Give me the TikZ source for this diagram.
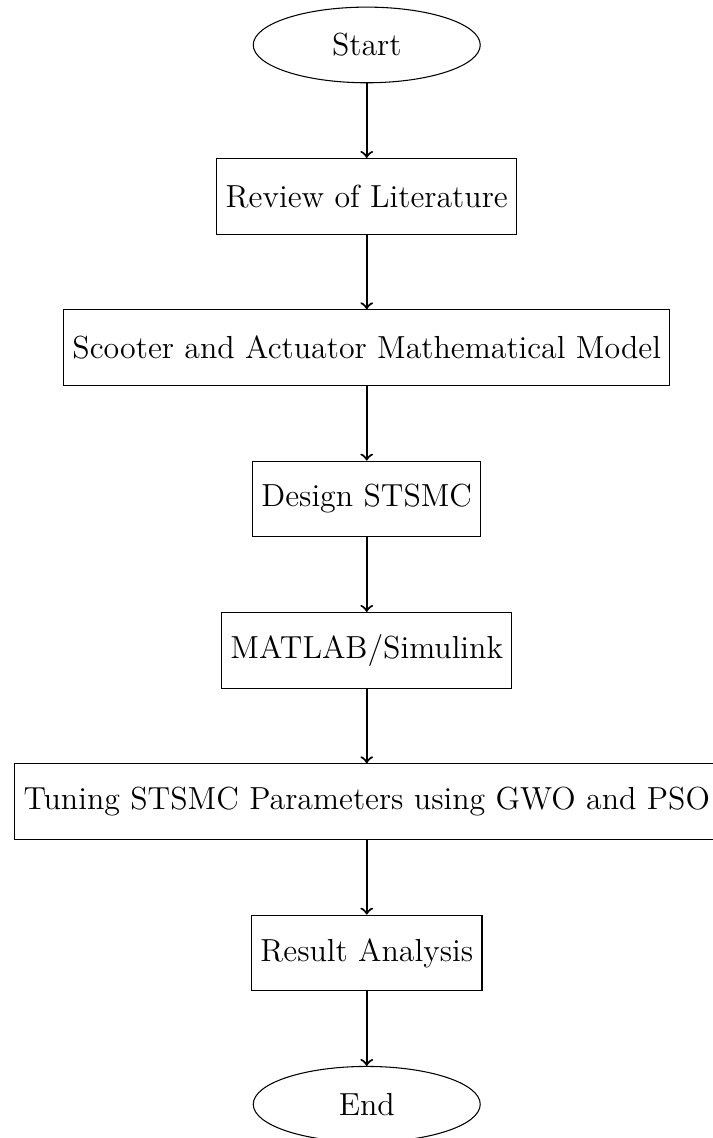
\documentclass[tikz,border=0pt]{standalone}
\usetikzlibrary{shapes.geometric}
\begin{document}
\begin{tikzpicture}[
  terminal/.style={ellipse, draw, minimum width=3cm, minimum height=1cm, font=\large},
  process/.style={rectangle, draw, minimum height=1cm, font=\large},
  flow/.style={->, thick}
]
\useasboundingbox (-4.847,0.594) rectangle (4.563,-14.446);
\node[terminal] (start) at (0,0) {Start};
\node[process] (lit) at (0,-2) {Review of Literature};
\node[process] (model) at (0,-4) {Scooter and Actuator Mathematical Model};
\node[process] (design) at (0,-6) {Design STSMC};
\node[process] (sim) at (0,-8) {MATLAB/Simulink};
\node[process] (tune) at (0,-10) {Tuning STSMC Parameters using GWO and PSO};
\node[process] (result) at (0,-12) {Result Analysis};
\node[terminal] (end) at (0,-14) {End};
\draw[flow] (start) -- (lit);
\draw[flow] (lit) -- (model);
\draw[flow] (model) -- (design);
\draw[flow] (design) -- (sim);
\draw[flow] (sim) -- (tune);
\draw[flow] (tune) -- (result);
\draw[flow] (result) -- (end);
\end{tikzpicture}
\end{document}
